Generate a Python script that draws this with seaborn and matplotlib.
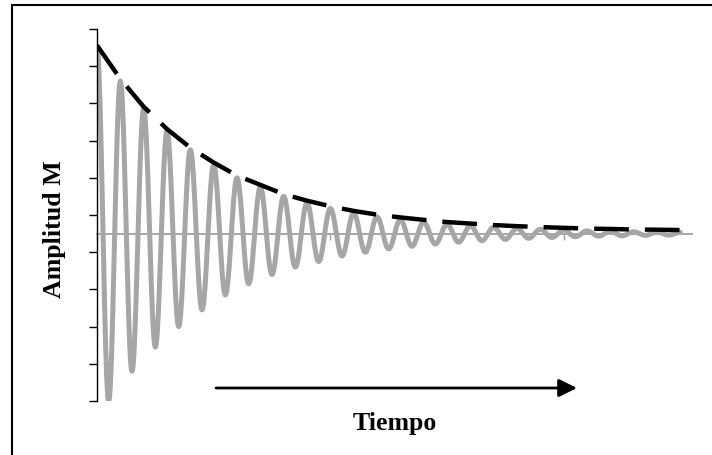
import numpy as np
import pandas as pd
import matplotlib
matplotlib.use("Agg")
import matplotlib.pyplot as plt
import seaborn as sns
from matplotlib.patches import Rectangle

# extrema of the damped oscillation (time in periods, amplitude)
ext_time = [0.0, 0.5, 1.0, 1.5, 2.0, 2.5, 3.0, 3.5, 4.0, 4.5, 5.0, 5.5, 6.0, 6.5,
            7.0, 7.5, 8.0, 8.5, 9.0, 9.5, 10.0, 10.5, 11.0, 11.5, 12.0, 12.5,
            13.0, 13.5, 14.0, 14.5, 15.0, 15.5, 16.0, 16.5, 17.0, 17.5, 18.0,
            18.5, 19.0, 19.5, 20.0, 20.5, 21.0, 21.5, 22.0, 22.5, 23.0, 23.5,
            24.0, 24.5, 25.0]
ext_amp = [1.00, -0.90, 0.82, -0.74, 0.67, -0.61, 0.55, -0.50, 0.45, -0.41,
           0.37, -0.33, 0.30, -0.27, 0.25, -0.22, 0.20, -0.18, 0.165, -0.15,
           0.135, -0.12, 0.11, -0.10, 0.09, -0.082, 0.075, -0.068, 0.062,
           -0.056, 0.05, -0.046, 0.042, -0.038, 0.034, -0.031, 0.028, -0.025,
           0.023, -0.021, 0.019, -0.017, 0.015, -0.014, 0.013, -0.012, 0.010,
           -0.0095, 0.009, -0.008, 0.007]

# envelope (dashed) through the peaks
env_time = [0, 1, 2, 3, 4, 5, 6, 7, 8, 9, 10, 11, 12, 13, 14, 15, 16, 17, 18,
            19, 20, 21, 22, 23, 24, 25]
env_amp = [1.012, 0.832, 0.682, 0.562, 0.462, 0.382, 0.312, 0.262, 0.212,
           0.177, 0.147, 0.122, 0.102, 0.087, 0.074, 0.062, 0.054, 0.046,
           0.040, 0.035, 0.031, 0.027, 0.025, 0.022, 0.021, 0.019]

y_ticks = [-0.9, -0.7, -0.5, -0.3, -0.1, 0.1, 0.3, 0.5, 0.7, 0.9, 1.1]
x_ticks = [0, 10, 20]

# smooth half-cosine arcs between consecutive extrema
s = np.linspace(0, 1, 24)
t_dense, a_dense = [], []
for i in range(len(ext_time) - 1):
    t0, t1 = ext_time[i], ext_time[i + 1]
    a0, a1 = ext_amp[i], ext_amp[i + 1]
    t_dense.extend(t0 + (t1 - t0) * s)
    a_dense.extend(a0 + (a1 - a0) * (1 - np.cos(np.pi * s)) / 2)
wave = pd.DataFrame({"t": t_dense, "amp": a_dense})
env = pd.DataFrame({"t": env_time, "amp": env_amp})

sns.set_style("white")
plt.rcParams["font.family"] = ["Liberation Serif", "DejaVu Serif"]

W, H = 712, 456
fig = plt.figure(figsize=(W / 100, H / 100), dpi=100)
ax = fig.add_axes([97 / W, 1 - 402 / H, 595 / W, 372 / H])

sns.lineplot(data=wave, x="t", y="amp", color="#a6a6a6", lw=3.6,
             estimator=None, sort=False, ax=ax, zorder=2)
sns.lineplot(data=env, x="t", y="amp", color="black", lw=3.2,
             estimator=None, ax=ax, zorder=3)
ax.lines[-1].set_dashes([7.8, 3.6])
ax.lines[-1].set_solid_capstyle("butt")

ax.set_xlim(0, 25.5)
ax.set_ylim(-0.9, 1.1)
ax.set_yticks(y_ticks)
ax.set_xticks(x_ticks)
ax.set_yticklabels([])
ax.set_xticklabels([])
ax.set_xlabel("")
ax.set_ylabel("")

for side in ["top", "right"]:
    ax.spines[side].set_visible(False)
ax.spines["left"].set_color("black")
ax.spines["left"].set_linewidth(1.0)
ax.spines["bottom"].set_position(("data", 0))
ax.spines["bottom"].set_color("#a0a0a0")
ax.spines["bottom"].set_linewidth(1.3)
ax.spines["bottom"].set_zorder(1)
ax.tick_params(axis="y", direction="out", length=6, width=1.0, color="black", left=True)
ax.tick_params(axis="x", direction="out", length=4, width=1.0, color="#a0a0a0", bottom=True)

bold = dict(fontsize=18.6, fontweight="bold", color="black")
fig.text(54 / W, 1 - 229 / H, "Amplitud M", rotation=90, ha="center", va="center", **bold)
fig.text(395 / W, 1 - 430 / H, "Tiempo", ha="center", va="baseline", **bold)

ax.annotate("", xy=(577 / W, 1 - 389 / H), xytext=(216 / W, 1 - 389 / H),
            xycoords="figure fraction", textcoords="figure fraction",
            arrowprops=dict(arrowstyle="-|>,head_length=0.55,head_width=0.27",
                            mutation_scale=20, lw=2.0, color="black",
                            shrinkA=0, shrinkB=0))

fig.add_artist(Rectangle((11.5 / W, -0.1), 1.2, 1 - 6 / H + 0.1,
                         transform=fig.transFigure, fill=False,
                         edgecolor="black", lw=1.5, clip_on=False))

fig.savefig("out.png", dpi=100)
